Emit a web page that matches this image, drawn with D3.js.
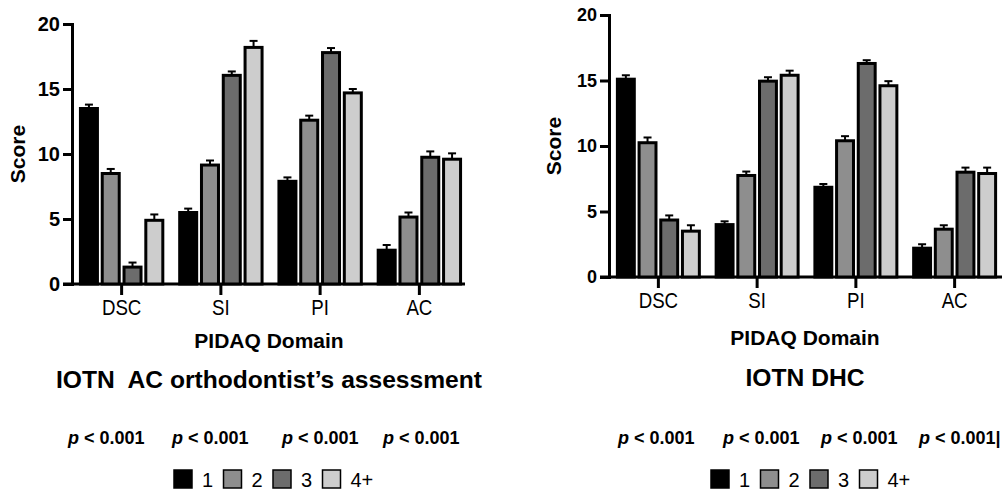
<!DOCTYPE html>
<html>
<head>
<meta charset="utf-8">
<script src="https://cdn.jsdelivr.net/npm/d3@7"></script>
<style>
  body { margin: 0; background: #fff; }
  svg { display: block; font-family: "Liberation Sans", Arial, sans-serif; }
  .tick-y { font-weight: bold; }
  .tick-x { font-size: 22px; }
  .titulo-eixo { font-weight: bold; white-space: pre; }
</style>
</head>
<body>
<svg id="grafico"></svg>
<script>
// categorias e grupos
const dominios = ['DSC', 'SI', 'PI', 'AC'];
const grupos = ['1', '2', '3', '4+'];
const ticksY = [0, 5, 10, 15, 20];
const valoresP = ['< 0.001', '< 0.001', '< 0.001', '< 0.001'];

// IOTN AC - médias por grupo (DSC, SI, PI, AC)
const acGrupo1 = [13.5, 5.5, 7.9, 2.6];
const acGrupo2 = [8.5, 9.15, 12.6, 5.15];
const acGrupo3 = [1.3, 16.05, 17.8, 9.75];
const acGrupo4 = [4.9, 18.2, 14.7, 9.6];
// IOTN AC - erros
const acErro1 = [0.3, 0.3, 0.3, 0.4];
const acErro2 = [0.35, 0.35, 0.35, 0.35];
const acErro3 = [0.35, 0.3, 0.35, 0.45];
const acErro4 = [0.45, 0.5, 0.3, 0.45];

// IOTN DHC - médias por grupo
const dhcGrupo1 = [15.1, 4.0, 6.85, 2.2];
const dhcGrupo2 = [10.25, 7.75, 10.4, 3.65];
const dhcGrupo3 = [4.35, 14.95, 16.3, 8.0];
const dhcGrupo4 = [3.5, 15.4, 14.6, 7.9];
// IOTN DHC - erros
const dhcErro1 = [0.3, 0.25, 0.25, 0.3];
const dhcErro2 = [0.4, 0.3, 0.35, 0.3];
const dhcErro3 = [0.35, 0.3, 0.25, 0.35];
const dhcErro4 = [0.45, 0.35, 0.35, 0.45];

const cores = ['#000000', '#8e8e8e', '#6c6c6c', '#cdcdcd'];

const svg = d3.select('#grafico').attr('width', 1007).attr('height', 492);

function painel(p) {
  const g = svg.append('g');

  const x = d3.scaleBand().domain(dominios).range([p.x0, p.x1]).paddingInner(0.17).paddingOuter(0.085);
  const xg = d3.scaleBand().domain(grupos).range([0, x.bandwidth()]).paddingInner(0.22);
  const y = d3.scaleLinear().domain([0, 20]).range([p.yZero, p.yTopo]);

  // eixo Y
  const eixoY = g.append('g')
      .attr('transform', `translate(${p.x0}, 0)`)
      .call(d3.axisLeft(y).tickValues(ticksY).tickSize(9).tickPadding(3));
  eixoY.select('.domain').attr('stroke', '#000').attr('stroke-width', 3);
  eixoY.selectAll('.tick line').attr('stroke-width', 3);
  eixoY.selectAll('.tick text').classed('tick-y', true).attr('fill', '#000')
      .style('font-family', 'inherit').style('font-size', p.tamTickY + 'px');

  // eixo X
  const eixoX = g.append('g')
      .attr('transform', `translate(0, ${p.yZero})`)
      .call(d3.axisBottom(x).tickSize(11).tickSizeOuter(0).tickPadding(4));
  eixoX.select('.domain').attr('stroke', '#000').attr('stroke-width', 3)
      .attr('d', `M${p.x0 - 9},0H${p.xFim}`);
  eixoX.selectAll('.tick line').attr('stroke-width', 3);
  eixoX.selectAll('.tick text').classed('tick-x', true).attr('fill', '#000').style('font-family', 'inherit');
  // os rótulos do original usam uma fonte estreita: comprime horizontalmente
  eixoX.selectAll('.tick text').each(function() {
    const largura = this.getComputedTextLength();
    d3.select(this).attr('textLength', largura * 0.85).attr('lengthAdjust', 'spacingAndGlyphs');
  });

  // barras
  const dados = [];
  dominios.forEach((d, i) => {
    grupos.forEach((gr, j) => {
      dados.push({ dominio: d, grupo: gr, valor: p.medias[j][i], erro: p.erros[j][i], cor: cores[j] });
    });
  });

  const barras = g.append('g').selectAll('g').data(dados).join('g')
      .attr('transform', d => `translate(${x(d.dominio) + xg(d.grupo)}, 0)`);

  // barra de erro (só para cima)
  barras.append('line')
      .attr('x1', xg.bandwidth() / 2).attr('x2', xg.bandwidth() / 2)
      .attr('y1', d => y(d.valor)).attr('y2', d => y(d.valor + d.erro))
      .attr('stroke', '#000').attr('stroke-width', 2);
  barras.append('line')
      .attr('x1', xg.bandwidth() / 2 - 4).attr('x2', xg.bandwidth() / 2 + 4)
      .attr('y1', d => y(d.valor + d.erro)).attr('y2', d => y(d.valor + d.erro))
      .attr('stroke', '#000').attr('stroke-width', 2);

  barras.append('rect')
      .attr('x', 0)
      .attr('width', xg.bandwidth())
      .attr('y', d => y(d.valor))
      .attr('height', d => y(0) - y(d.valor))
      .attr('fill', d => d.cor)
      .attr('stroke', '#000').attr('stroke-width', 3);

  // títulos
  g.append('text')
      .attr('transform', `translate(${p.scoreX}, ${(p.yZero + p.yTopo) / 2}) rotate(-90)`)
      .attr('text-anchor', 'middle')
      .style('font-size', '21px')
      .classed('titulo-eixo', true)
      .text('Score');

  g.append('text')
      .attr('x', p.centro).attr('y', p.dominioY)
      .attr('text-anchor', 'middle')
      .style('font-size', '21px')
      .classed('titulo-eixo', true)
      .text('PIDAQ Domain');

  g.append('text')
      .attr('x', p.centro).attr('y', p.tituloY)
      .attr('text-anchor', 'middle')
      .style('font-size', '24px')
      .classed('titulo-eixo', true)
      .attr('textLength', p.tituloLargura)
      .attr('lengthAdjust', 'spacingAndGlyphs')
      .text(p.titulo);

  // valores de p
  valoresP.forEach((v, i) => {
    const t = g.append('text')
        .attr('x', p.pX[i]).attr('y', 444)
        .style('font-size', '18px').style('font-weight', 'bold');
    t.append('tspan').style('font-style', 'italic').text('p');
    t.append('tspan').text(' ' + v + (p.cursor && i === valoresP.length - 1 ? '|' : ''));
  });

  // legenda
  const leg = g.append('g').selectAll('g').data(grupos).join('g')
      .attr('transform', (d, i) => `translate(${p.legX + i * 49.5}, 470)`);
  leg.append('rect')
      .attr('width', 18).attr('height', 18)
      .attr('fill', (d, i) => cores[i])
      .attr('stroke', '#000').attr('stroke-width', 1.5);
  leg.append('text')
      .attr('x', 28).attr('y', 17)
      .style('font-size', '20px')
      .text(d => d);
}

painel({
  x0: 72, x1: 469, xFim: 465, yZero: 284, yTopo: 24, tamTickY: 20,
  medias: [acGrupo1, acGrupo2, acGrupo3, acGrupo4],
  erros: [acErro1, acErro2, acErro3, acErro4],
  scoreX: 25, centro: 269, dominioY: 348, tituloY: 388,
  titulo: 'IOTN  AC orthodontist’s assessment', tituloLargura: 426,
  pX: [68, 172, 282, 383], legX: 174, cursor: false
});

painel({
  x0: 609, x1: 1004, xFim: 1002, yZero: 277, yTopo: 15, tamTickY: 18,
  medias: [dhcGrupo1, dhcGrupo2, dhcGrupo3, dhcGrupo4],
  erros: [dhcErro1, dhcErro2, dhcErro3, dhcErro4],
  scoreX: 561, centro: 805, dominioY: 345, tituloY: 386,
  titulo: 'IOTN DHC', tituloLargura: 119,
  pX: [618, 723, 821, 919], legX: 711, cursor: true
});
</script>
</body>
</html>
